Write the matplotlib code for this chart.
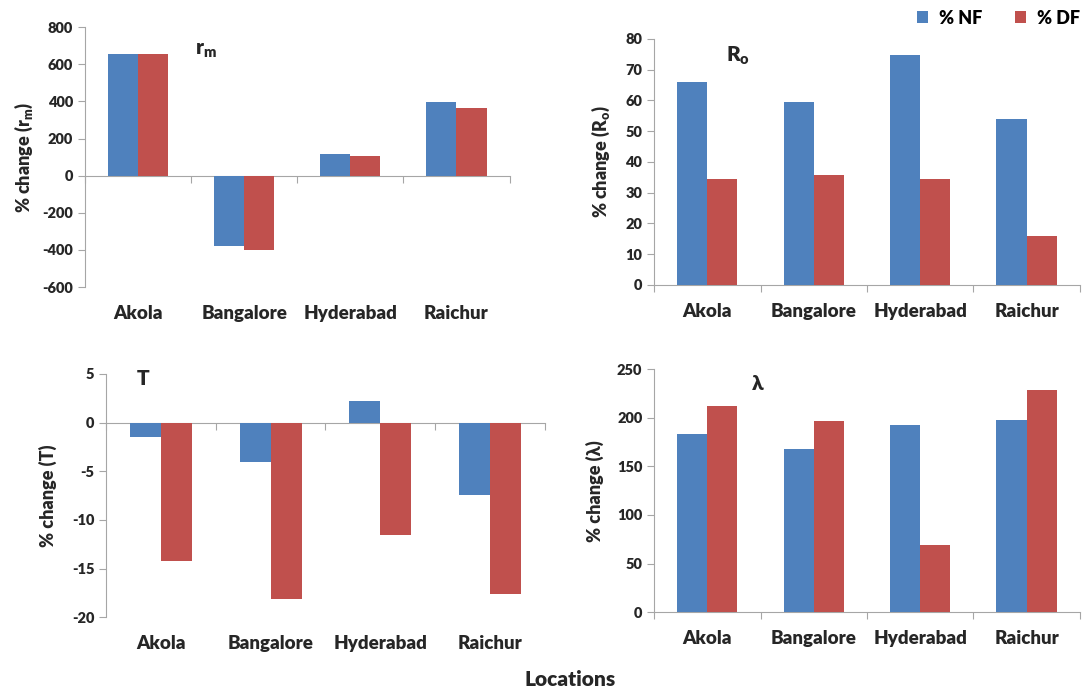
import matplotlib.pyplot as plt
import numpy as np

plt.rcParams['font.family'] = ['Lato', 'DejaVu Sans']
plt.rcParams['font.weight'] = 'heavy'
plt.rcParams['axes.unicode_minus'] = False
plt.rcParams['mathtext.fontset'] = 'custom'
plt.rcParams['mathtext.rm'] = 'Lato:heavy'
plt.rcParams['mathtext.bf'] = 'Lato:heavy'
plt.rcParams['mathtext.it'] = 'Lato:heavy'

locations = ["Akola", "Bangalore", "Hyderabad", "Raichur"]
series = ["% NF", "% DF"]

rm_nf = [655, -380, 115, 398]
rm_df = [655, -398, 104, 364]

ro_nf = [65.9, 59.4, 74.8, 53.8]
ro_df = [34.3, 35.9, 34.6, 15.9]

t_nf = [-1.5, -4.1, 2.2, -7.4]
t_df = [-14.2, -18.1, -11.6, -17.6]

lam_nf = [183.4, 168, 192.3, 197.5]
lam_df = [212.4, 196.4, 69, 228.4]

blue = "#4F81BD"
red = "#C0504D"
grey = "#A6A6A6"
txt = "#262626"

fig = plt.figure(figsize=(10.83, 6.95), dpi=100)


def panel(rect, nf, df, ylim, yticks, ylabel, tag, tagpos, ylabel_x):
    ax = fig.add_axes(rect)
    x = np.arange(len(locations))
    w = 0.283
    ax.bar(x - w / 2, nf, w, color=blue, label=series[0])
    ax.bar(x + w / 2, df, w, color=red, label=series[1])
    ax.set_xlim(-0.5, 3.5)
    ax.set_ylim(*ylim)
    ax.set_yticks(yticks)
    ax.set_xticks(x)
    ax.set_xticklabels(locations, fontsize=13.5, fontweight='heavy', color=txt)
    ax.tick_params(axis='x', length=0, pad=13)
    ax.tick_params(axis='y', length=5, color=grey, labelsize=10.5, labelcolor=txt, direction='out')
    for s in ['top', 'right', 'bottom']:
        ax.spines[s].set_visible(False)
    ax.spines['left'].set_color(grey)
    # category axis drawn at zero
    sec = ax.secondary_xaxis(0, transform=ax.transData)
    sec.set_xticks(np.arange(-0.5, 4, 1))
    sec.set_xticklabels([])
    sec.tick_params(length=5, color=grey, direction='out')
    sec.spines['bottom'].set_color(grey)
    ax.set_ylabel(ylabel, fontsize=13, fontweight='heavy', color=txt)
    ax.yaxis.set_label_coords(ylabel_x, 0.5)
    ax.text(tagpos[0], tagpos[1], tag, transform=ax.transAxes, fontsize=15,
            fontweight='heavy', color=txt, va='center', ha='left')
    return ax


panel([0.0785, 0.587, 0.392, 0.374], rm_nf, rm_df, (-600, 800),
      np.arange(-600, 801, 200), r'% change ($\mathbf{r_m}$)', r'$\mathbf{r_m}$',
      (0.26, 0.91), -0.117)

ax_ro = panel([0.604, 0.590, 0.393, 0.354], ro_nf, ro_df, (0, 80),
              np.arange(0, 81, 10), r'% change ($\mathbf{R_o}$)', r'$\mathbf{R_o}$',
              (0.17, 0.93), -0.099)

panel([0.098, 0.112, 0.405, 0.350], t_nf, t_df, (-20, 5),
      np.arange(-20, 6, 5), '% change (T)', 'T', (0.07, 0.98), -0.112)

panel([0.604, 0.119, 0.393, 0.350], lam_nf, lam_df, (0, 250),
      np.arange(0, 251, 50), '% change (λ)', 'λ', (0.23, 0.94), -0.117)

handles, labels = ax_ro.get_legend_handles_labels()
fig.legend(handles, labels, loc='center', bbox_to_anchor=(0.922, 0.974), ncol=2,
           frameon=False, fontsize=13, handlelength=0.6, handleheight=0.6,
           columnspacing=1.8, handletextpad=0.6)

fig.text(0.526, 0.008, "Locations", ha='center', va='bottom', fontsize=15,
         fontweight='heavy', color=txt)

fig.savefig("out.png", dpi=100)
